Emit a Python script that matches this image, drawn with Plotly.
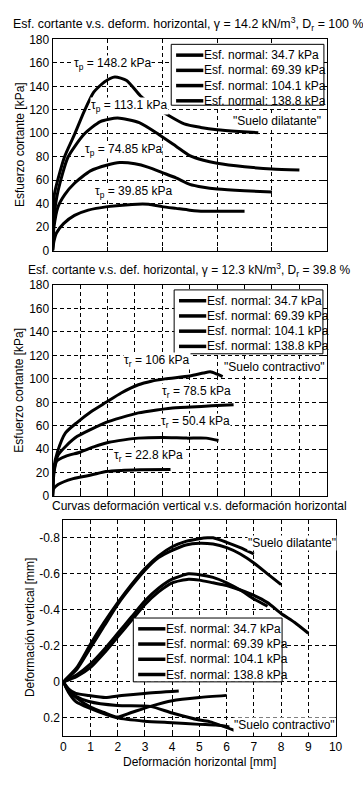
import plotly.graph_objects as go

# ---------------- DATA ----------------
stress_labels = ["Esf. normal: 34.7 kPa", "Esf. normal: 69.39 kPa",
                 "Esf. normal: 104.1 kPa", "Esf. normal: 138.8 kPa"]

# Panel 1: dense soil (Dr = 100 %), shear stress [kPa] vs horizontal displacement [mm]
d1_x_347 = [0, 0.05, 0.14, 0.4, 0.8, 1.3, 2.0, 2.9, 3.5, 4.0, 4.5, 5.0, 5.5, 6.0, 7.0]
d1_y_347 = [0, 8, 15, 23, 30, 34.5, 37.5, 39.4, 39.5, 37.5, 36, 34.5, 33.5, 33.5, 33.5]
d1_x_694 = [0, 0.05, 0.2, 0.45, 0.78, 1.38, 2.0, 2.45, 3.0, 3.5, 4.0, 4.5, 5.0, 5.5, 6.0, 7.0, 8.0]
d1_y_694 = [0, 20, 37.5, 48, 57, 68, 73, 75, 74, 71, 66.5, 62, 56.5, 54, 52.5, 51, 50]
d1_x_1041 = [0, 0.05, 0.2, 0.56, 1.14, 1.74, 2.37, 3.16, 3.87, 4.5, 5.0, 5.5, 6.0, 7.0, 8.0, 9.0]
d1_y_1041 = [0, 28, 51, 79.6, 99, 110, 113, 109, 99, 89, 81, 77, 74.5, 71.5, 69.5, 68.7]
d1_x_1388 = [0, 0.03, 0.07, 0.43, 0.8, 1.14, 1.5, 1.9, 2.27, 2.7, 3.2, 3.7, 4.2, 4.8, 5.4, 6.0, 6.8, 7.5]
d1_y_1388 = [0, 30, 48.6, 79.6, 99, 118, 135, 144, 148, 145, 132, 123, 115.6, 108, 105, 103, 101.5, 100.5]

# Panel 2: loose soil (Dr = 39.8 %)
d2_x_347 = [0, 0.03, 0.2, 0.75, 1.4, 1.95, 2.5, 3.2, 4.3]
d2_y_347 = [0, 6, 10, 15, 18, 21, 22, 22.5, 22.8]
d2_x_694 = [0, 0.05, 0.15, 0.47, 1.0, 1.5, 2.06, 2.6, 3.13, 4.0, 4.9, 5.6, 6.05]
d2_y_694 = [0, 20, 30, 34, 37.5, 42, 46, 48, 49.5, 50, 49.5, 49.5, 47.5]
d2_x_1041 = [0, 0.05, 0.2, 0.5, 0.9, 1.4, 1.95, 2.5, 3.13, 3.8, 4.3, 5.05, 5.8, 6.6]
d2_y_1041 = [0, 22, 35, 43, 51, 57, 63, 67, 71, 73.5, 75, 76, 77, 78]
d2_x_1388 = [0, 0.05, 0.18, 0.47, 0.9, 1.4, 1.95, 2.5, 3.13, 3.6, 4.1, 5.0, 5.5, 5.75, 6.0, 6.2]
d2_y_1388 = [0, 25, 38, 54, 63, 72, 80, 88, 95, 98, 100, 102.5, 105, 106, 104, 102]

# Panel 3: vertical vs horizontal displacement [mm] (dilatant and contractive)
dil_x_a = [0, 0.5, 1, 1.5, 2, 2.5, 3, 3.5, 4, 4.5, 5, 5.3, 5.5, 6, 6.5, 7]
dil_v_a = [0, -0.08, -0.21, -0.33, -0.44, -0.54, -0.63, -0.70, -0.75, -0.78, -0.795, -0.8, -0.8, -0.775, -0.745, -0.71]
dil_x_b = [0, 0.5, 1, 1.5, 2, 2.5, 3, 3.5, 4, 4.5, 5, 5.5, 6, 6.5, 7, 7.5, 8]
dil_v_b = [0, -0.07, -0.19, -0.31, -0.43, -0.53, -0.62, -0.69, -0.73, -0.76, -0.77, -0.765, -0.745, -0.71, -0.66, -0.6, -0.54]
dil_x_c = [0, 0.5, 1, 1.5, 2, 2.5, 3, 3.5, 4, 4.6, 5, 5.5, 6, 6.5, 7, 7.5]
dil_v_c = [0, -0.04, -0.1, -0.18, -0.27, -0.36, -0.45, -0.52, -0.57, -0.6, -0.595, -0.58, -0.55, -0.51, -0.46, -0.42]
dil_x_d = [0, 0.5, 1, 1.5, 2, 2.5, 3, 3.5, 4, 4.6, 5, 5.5, 6, 6.5, 7, 7.5, 8, 8.5, 9]
dil_v_d = [0, -0.03, -0.08, -0.16, -0.25, -0.34, -0.43, -0.5, -0.55, -0.57, -0.565, -0.55, -0.535, -0.51, -0.48, -0.44, -0.38, -0.33, -0.27]
con_x_a = [0, 0.2, 0.46, 0.94, 1.54, 2.14, 2.98, 4.24]
con_v_a = [0, 0.04, 0.064, 0.076, 0.087, 0.076, 0.064, 0.051]
con_x_b = [0, 0.2, 0.5, 1.0, 1.5, 1.98, 2.5, 3.2, 4.0, 5.0, 6.0]
con_v_b = [0, 0.05, 0.09, 0.14, 0.17, 0.195, 0.17, 0.136, 0.105, 0.087, 0.075]
con_x_c = [0, 0.2, 0.46, 0.94, 1.98, 3.2, 4.0, 5.0, 5.4, 6.3]
con_v_c = [0, 0.05, 0.08, 0.109, 0.131, 0.136, 0.173, 0.212, 0.222, 0.27]
con_x_d = [0, 0.2, 0.46, 0.94, 1.98, 2.98, 4.0, 5.0, 5.6, 6.1]
con_v_d = [0, 0.06, 0.11, 0.145, 0.2, 0.218, 0.227, 0.236, 0.24, 0.25]

y_ticks_stress = [0, 20, 40, 60, 80, 100, 120, 140, 160, 180]
x_ticks_top = [0, 2, 4, 6, 8, 10]
x_ticks_unit = [0, 1, 2, 3, 4, 5, 6, 7, 8, 9, 10]
v_tickvals = [-0.8, -0.6, -0.4, -0.2, 0, 0.2]
v_ticktext = ["-0.8", "-0.6", "-0.4", "-0.2", "0", "0.2"]

# ---------------- FIGURE ----------------
W, H = 363, 793
FONT = "Liberation Sans, Arial, Helvetica, sans-serif"


def P(xpx):
    return xpx / W


def Q(ypx):
    return 1 - ypx / H


fig = go.Figure()

line_style = dict(color="black", width=3, shape="spline", smoothing=0.6)

panel1 = [(d1_x_347, d1_y_347), (d1_x_694, d1_y_694), (d1_x_1041, d1_y_1041), (d1_x_1388, d1_y_1388)]
panel2 = [(d2_x_347, d2_y_347), (d2_x_694, d2_y_694), (d2_x_1041, d2_y_1041), (d2_x_1388, d2_y_1388)]
panel3 = [(dil_x_a, dil_v_a), (dil_x_b, dil_v_b), (dil_x_c, dil_v_c), (dil_x_d, dil_v_d),
          (con_x_a, con_v_a), (con_x_b, con_v_b), (con_x_c, con_v_c), (con_x_d, con_v_d)]

for i, (xs, ys) in enumerate(panel1):
    fig.add_trace(go.Scatter(x=xs, y=ys, mode="lines", line=line_style,
                             name=stress_labels[i], showlegend=False, xaxis="x", yaxis="y"))
for i, (xs, ys) in enumerate(panel2):
    fig.add_trace(go.Scatter(x=xs, y=ys, mode="lines", line=line_style,
                             name=stress_labels[i], showlegend=False, xaxis="x2", yaxis="y2"))
for i, (xs, ys) in enumerate(panel3):
    fig.add_trace(go.Scatter(x=xs, y=ys, mode="lines", line=line_style,
                             name=stress_labels[i % 4], showlegend=False, xaxis="x3", yaxis="y3"))

axis_common = dict(showline=True, linecolor="black", linewidth=1, mirror="ticks",
                   ticks="inside", ticklen=4, tickcolor="black",
                   showgrid=True, gridcolor="black", gridwidth=1, griddash="4px,3px",
                   zeroline=False, tickfont=dict(family=FONT, size=12, color="black"))

fig.update_layout(
    width=W, height=H, margin=dict(l=0, r=0, t=0, b=0),
    paper_bgcolor="white", plot_bgcolor="white",
    font=dict(family=FONT, size=12, color="black"),
    # x tick labels of the two upper panels are hidden under the following titles in the reference
    xaxis=dict(domain=[P(51), P(333)], range=[0, 10], tickvals=x_ticks_top, showticklabels=False,
               anchor="y", **axis_common),
    yaxis=dict(domain=[Q(248), Q(33)], range=[0, 180], tickvals=y_ticks_stress, anchor="x", **axis_common),
    xaxis2=dict(domain=[P(51), P(333)], range=[0, 10], tickvals=x_ticks_unit, showticklabels=False,
                anchor="y2", **axis_common),
    yaxis2=dict(domain=[Q(498), Q(283)], range=[0, 180], tickvals=y_ticks_stress, anchor="x2", **axis_common),
    xaxis3=dict(domain=[P(62), P(342)], range=[0, 10], tickvals=x_ticks_unit, anchor="y3", **axis_common),
    yaxis3=dict(domain=[Q(742), Q(522)], range=[0.3, -0.9], tickvals=v_tickvals, ticktext=v_ticktext,
                anchor="x3", **axis_common),
)

ann = []


def txt(text, x, y, xref="paper", yref="paper", bg="white", size=12, angle=0, xanchor="center"):
    ann.append(dict(text=text, x=x, y=y, xref=xref, yref=yref, showarrow=False,
                    bgcolor=bg, borderpad=0, textangle=angle, xanchor=xanchor, yanchor="middle",
                    font=dict(family=FONT, size=size, color="black")))


# titles
txt("Esf. cortante v.s. deform. horizontal, \u03b3 = 14.2 kN/m<sup>3</sup>, D<sub>r</sub> = 100 %", P(190), Q(17),
    size=12.4)
txt("Esf. cortante v.s. def. horizontal, \u03b3 = 12.3 kN/m<sup>3</sup>, D<sub>r</sub> = 39.8 %", P(191), Q(268))
txt("Curvas deformación vertical v.s. deformación horizontal", P(202), Q(508))
# axis titles
txt("Esfuerzo cortante [kPa]", P(17), Q(140), angle=-90, bg=None)
txt("Esfuerzo cortante [kPa]", P(17), Q(390), angle=-90, bg=None)
txt("Deformación vertical [mm]", P(28), Q(632), angle=-90, bg=None)
txt("Deformación horizontal [mm]", P(202), Q(769), bg=None)

# in-plot labels
txt("\u03c4<sub>p</sub> = 148.2 kPa", 2.2, 159, "x", "y")
txt("\u03c4<sub>p</sub> = 113.1 kPa", 2.8, 123, "x", "y")
txt("\u03c4<sub>p</sub> = 74.85 kPa", 2.6, 86, "x", "y")
txt("\u03c4<sub>p</sub> = 39.85 kPa", 2.95, 50, "x", "y")
txt('"Suelo dilatante"', 8.2, 110.5, "x", "y")
txt("\u03c4<sub>r</sub> = 106 kPa", 3.8, 115.5, "x2", "y2")
txt('"Suelo contractivo"', 8.1, 110, "x2", "y2")
txt("\u03c4<sub>r</sub> = 78.5 kPa", 5.25, 89, "x2", "y2")
txt("\u03c4<sub>r</sub> = 50.4 kPa", 5.2, 63, "x2", "y2")
txt("\u03c4<sub>r</sub> = 22.8 kPa", 3.5, 34, "x2", "y2")
txt('"Suelo dilatante"', 8.4, -0.773, "x3", "y3")
txt('"Suelo contractivo"', 8.14, 0.238, "x3", "y3")

shapes = []


def add_legend(x0, y0, x1, y1):
    shapes.append(dict(type="rect", xref="paper", yref="paper", x0=P(x0), x1=P(x1), y0=Q(y0), y1=Q(y1),
                       line=dict(color="black", width=1), fillcolor="white", layer="above"))
    for i, lab in enumerate(stress_labels):
        yy = y0 + 11 + i * 15.5
        shapes.append(dict(type="line", xref="paper", yref="paper", x0=P(x0 + 5), x1=P(x0 + 33),
                           y0=Q(yy), y1=Q(yy), line=dict(color="black", width=3.5), layer="above"))
        txt(lab, P(x0 + 33), Q(yy), bg=None, xanchor="left")


add_legend(173, 38, 330, 100)
add_legend(176, 288, 329, 353)
add_legend(134, 622, 287, 687)

fig.update_layout(annotations=ann, shapes=shapes)

fig.write_html("out.html", config={"displayModeBar": False},
               post_script="document.body.style.margin='0px';")
